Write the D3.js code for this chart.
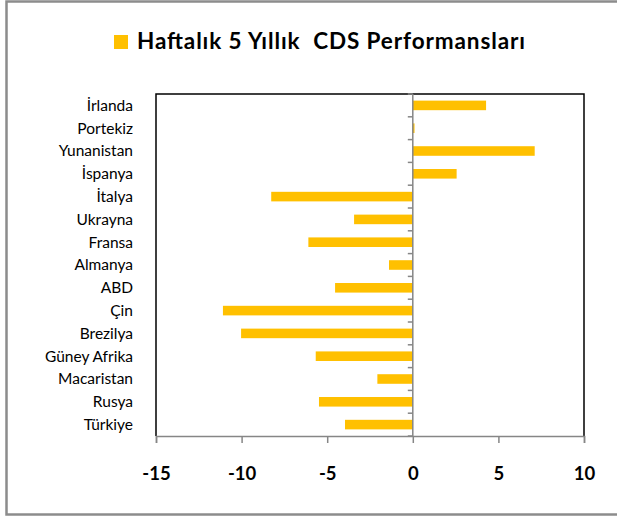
<!DOCTYPE html>
<html>
<head>
<meta charset="utf-8">
<script src="https://cdn.jsdelivr.net/npm/d3@7"></script>
<style>
  html, body { margin: 0; padding: 0; background: #fff; }
  svg { display: block; font-family: Lato, "Open Sans", sans-serif; }
</style>
</head>
<body>
<svg id="chart" width="617" height="518"></svg>
<script>
// Weekly 5-year CDS performance by country (top to bottom)
const countries = ["İrlanda", "Portekiz", "Yunanistan", "İspanya", "İtalya", "Ukrayna", "Fransa",
  "Almanya", "ABD", "Çin", "Brezilya", "Güney Afrika", "Macaristan", "Rusya", "Türkiye"];
const changes = [4.28, 0.1, 7.12, 2.56, -8.27, -3.43, -6.10, -1.39, -4.54, -11.09, -10.03, -5.67, -2.07, -5.48, -3.96];
const xTicks = [-15, -10, -5, 0, 5, 10];
const titleText = "Haftalık 5 Yıllık  CDS Performansları";

const barColor = "#FFC000";
const axisGray = "#868686";

const svg = d3.select("#chart");

// outer chart frame
svg.append("rect")
  .attr("x", 6.5).attr("y", 1.5)
  .attr("width", 640).attr("height", 513)
  .attr("fill", "#fff")
  .attr("stroke", "#8c8c8c").attr("stroke-width", 2.5);

const plot = { left: 156, right: 584, top: 94, bottom: 436 };

const x = d3.scaleLinear().domain([-15, 10]).range([plot.left, plot.right]);
const y = d3.scaleBand().domain(countries).range([plot.top, plot.bottom]).paddingInner(0.58).paddingOuter(0.29);
const band = d3.scaleBand().domain(countries).range([plot.top, plot.bottom]);

// plot area border (top, left, right)
svg.append("path")
  .attr("d", `M${plot.left},${plot.bottom} V${plot.top} H${plot.right} V${plot.bottom}`)
  .attr("fill", "none").attr("stroke", "#000").attr("stroke-width", 1.5);

// bars
svg.append("g").selectAll("rect")
  .data(countries.map((c, i) => ({ c, v: changes[i] })))
  .join("rect")
  .attr("x", d => x(Math.min(0, d.v)))
  .attr("width", d => Math.abs(x(d.v) - x(0)))
  .attr("y", d => y(d.c))
  .attr("height", y.bandwidth())
  .attr("fill", barColor);

// vertical category axis at zero, ticks between categories
const boundaries = countries.map(c => band(c)).concat([plot.bottom]);
const yAxis = svg.append("g");
yAxis.selectAll("line.tick")
  .data(boundaries)
  .join("line")
  .attr("class", "tick")
  .attr("x1", x(0) - 5).attr("x2", x(0))
  .attr("y1", d => d).attr("y2", d => d)
  .attr("stroke", axisGray).attr("stroke-width", 1.5);
yAxis.append("line")
  .attr("x1", x(0)).attr("x2", x(0))
  .attr("y1", plot.top).attr("y2", plot.bottom)
  .attr("stroke", axisGray).attr("stroke-width", 1.5);

// category labels
svg.append("g").selectAll("text")
  .data(countries)
  .join("text")
  .attr("x", 133)
  .attr("y", d => band(d) + band.bandwidth() / 2)
  .attr("dy", "0.35em")
  .attr("text-anchor", "end")
  .attr("font-size", 15.5)
  .attr("fill", "#000")
  .text(d => d);

// horizontal value axis
const xAxis = d3.axisBottom(x).tickValues(xTicks).tickSize(7).tickPadding(24).tickFormat(d3.format("d"));
const gx = svg.append("g").attr("transform", `translate(0,${plot.bottom})`).call(xAxis);
gx.select(".domain").attr("stroke", axisGray).attr("stroke-width", 1.5);
gx.selectAll(".tick line").attr("stroke", axisGray).attr("stroke-width", 1.5);
gx.selectAll(".tick text")
  .attr("font-family", "Lato, sans-serif")
  .attr("font-size", 18.5)
  .attr("font-weight", "bold")
  .attr("fill", "#000")
  .text(d => d < 0 ? "-" + Math.abs(d) : d);

// title with legend swatch
svg.append("rect")
  .attr("x", 114).attr("y", 35)
  .attr("width", 14).attr("height", 14)
  .attr("fill", barColor);
svg.append("text")
  .attr("x", 137).attr("y", 48.5)
  .attr("font-size", 22.5)
  .attr("font-weight", "bold")
  .attr("fill", "#000")
  .attr("textLength", 388)
  .attr("lengthAdjust", "spacing")
  .attr("xml:space", "preserve")
  .style("white-space", "pre")
  .text(titleText);
</script>
</body>
</html>
